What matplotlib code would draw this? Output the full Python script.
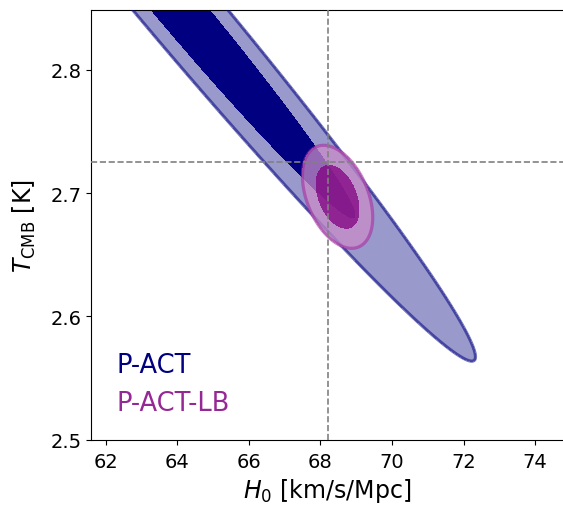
import numpy as np
import matplotlib
matplotlib.use("Agg")
import matplotlib.pyplot as plt

# ---- data ----
datasets = ["P-ACT", "P-ACT-LB"]
h0_mean = [63.70, 68.48]
tcmb_mean = [2.862, 2.697]
h0_std = [3.473, 0.395]
tcmb_std = [0.120, 0.0168]
corr = [-0.988, -0.40]
inner_colors = ["#000080", "#800080"]
outer_colors = ["#000080", "#c88cc8"]
line_colors = ["#000080", "#a030a0"]
label_colors = ["#000080", "#962896"]
h0_ref = 68.2
tcmb_ref = 2.725
xticks = [62, 64, 66, 68, 70, 72, 74]
yticks = [2.5, 2.6, 2.7, 2.8]
chi2_levels = [2.30, 6.18]  # 68% and 95% (2D)

W, H = 563, 506
fig = plt.figure(figsize=(W / 100, H / 100), dpi=100)
ax = fig.add_axes([91 / W, (H - 440.7) / H, (W - 91) / W, 429.7 / H])

xg = np.linspace(59.0, 77.0, 900)
yg = np.linspace(2.45, 2.95, 900)
X, Y = np.meshgrid(xg, yg)

outer_alpha = [0.4, 0.75]
inner_alpha = [1.0, 0.75]
line_alpha = [0.55, 0.6]
for i, name in enumerate(datasets):
    sx, sy, r = h0_std[i], tcmb_std[i], corr[i]
    dx = (X - h0_mean[i]) / sx
    dy = (Y - tcmb_mean[i]) / sy
    chi2 = (dx ** 2 - 2 * r * dx * dy + dy ** 2) / (1 - r ** 2)
    z0 = 1 + 3 * i
    ax.contourf(X, Y, chi2, levels=[0, chi2_levels[1]], colors=[outer_colors[i]],
                alpha=outer_alpha[i], zorder=z0)
    ax.contourf(X, Y, chi2, levels=[0, chi2_levels[0]], colors=[inner_colors[i]],
                alpha=inner_alpha[i], zorder=z0 + 1)
    ax.contour(X, Y, chi2, levels=[chi2_levels[1]], colors=[line_colors[i]],
               alpha=line_alpha[i], linewidths=2.3, zorder=z0 + 2)

ax.axvline(h0_ref, color="#808080", ls="--", lw=1.2, zorder=10)
ax.axhline(tcmb_ref, color="#808080", ls="--", lw=1.2, zorder=10)

ax.set_xlim(61.589, 74.78)
ax.set_ylim(2.5, 2.8485)
ax.set_xticks(xticks)
ax.set_yticks(yticks)
ax.set_yticklabels([f"{v:.1f}" for v in yticks])
ax.tick_params(labelsize=14)
ax.tick_params(axis="x", pad=5)
ax.spines["right"].set_visible(False)

ax.set_xlabel(r"$H_0$ [km/s/Mpc]", fontsize=17, labelpad=4)
ax.set_ylabel(r"$T_{\rm CMB}$ [K]", fontsize=17, labelpad=9)

ax.text(62.31, 2.5547, datasets[0], color=label_colors[0], fontsize=18.5,
        va="baseline", ha="left", zorder=11)
ax.text(62.31, 2.5243, datasets[1], color=label_colors[1], fontsize=18.5,
        va="baseline", ha="left", zorder=11)

fig.savefig("out.png", dpi=100)
